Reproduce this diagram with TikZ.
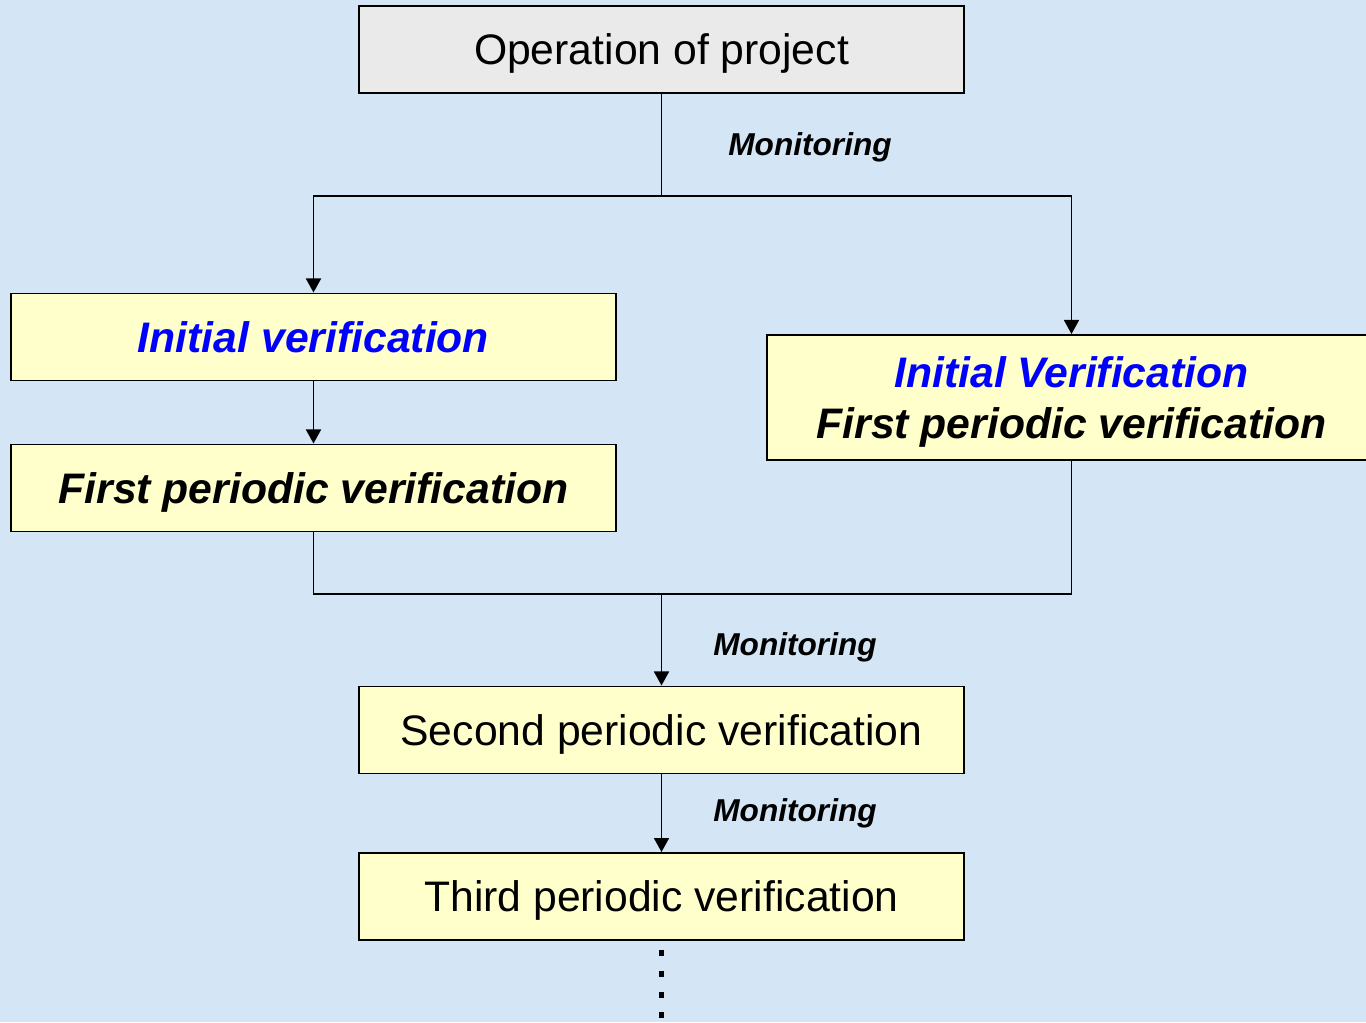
\documentclass[tikz,border=0pt]{standalone}
\usepackage{fontspec}
\setmainfont{Liberation Sans}
\usetikzlibrary{arrows.meta}
\definecolor{bgblue}{RGB}{212,230,245}
\definecolor{boxyellow}{RGB}{255,255,204}
\definecolor{boxgray}{RGB}{234,234,234}

\begin{document}
\begin{tikzpicture}[x=0.02cm,y=-0.02cm]
\tikzstyle{stage}=[rectangle,draw=black,line width=1.1pt,fill=boxyellow,minimum width=12.1cm,minimum height=1.74cm,text depth=0pt,font=\fontsize{24.3}{29.5}\selectfont]
\tikzstyle{label}=[text depth=0pt,font=\fontsize{18}{22}\selectfont\bfseries\itshape]
\tikzstyle{link}=[line width=1.1pt]
\tikzstyle{arrow}=[link,-{Triangle[length=8pt,width=8.5pt]}]
\fill[bgblue] (0,0) rectangle (1366,1022);
\useasboundingbox (0,0) rectangle (1366,1022);
% boxes
\node [stage,fill=boxgray] (op) at (661.5,49.5) {Operation of project};
\node [stage] (init) at (313.5,337) {\bfseries\itshape\color{blue}Initial verification};
\node [stage] (first) at (313.5,488) {\bfseries\itshape First periodic verification};
\node [stage,minimum width=12.18cm,minimum height=2.5cm,align=center] (both) at (1071.5,397.5)
  {\bfseries\itshape\color{blue}Initial Verification\\ \bfseries\itshape First periodic verification};
\node [stage] (second) at (661.5,730) {Second periodic verification};
\node [stage] (third) at (661.5,896.5) {Third periodic verification};
% monitoring labels
\node [label] (mon1) at (810,144) {Monitoring};
\node [label] (mon2) at (795,644) {Monitoring};
\node [label] (mon3) at (795,810) {Monitoring};
% connectors
\coordinate (split) at (661.5,196);
\coordinate (join) at (661.5,594);
\coordinate (dots) at (661.5,1022);
\draw [link] (op) -- (split);
\draw [arrow] (split) -| (init.north);
\draw [arrow] (split) -| (both.north);
\draw [arrow] (init) -- (first);
\draw [link] (first.south) |- (join) -| (both.south);
\draw [arrow] (join) -- (second.north);
\draw [arrow] (second) -- (third);
\draw [line width=3.4pt,dash pattern=on 3.4pt off 8.5pt] ([yshift=-5pt]third.south) -- (dots);
\end{tikzpicture}
\end{document}
